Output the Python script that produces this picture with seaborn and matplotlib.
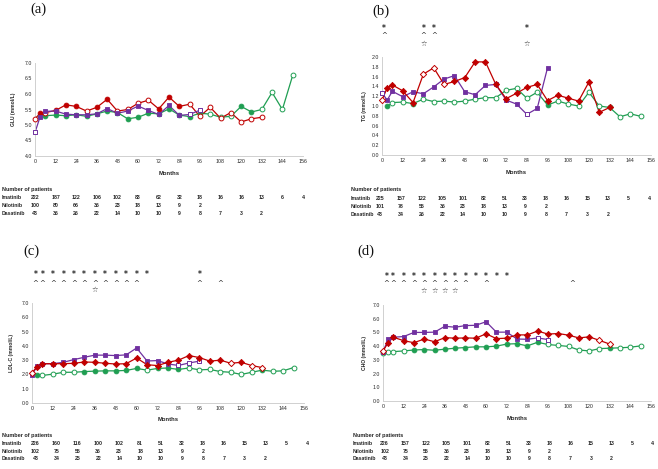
import numpy as np
import pandas as pd
import matplotlib
matplotlib.use("Agg")
import matplotlib.pyplot as plt
import matplotlib.transforms as mtransforms
import seaborn as sns

# ---------------- data ----------------
MONTHS_NIL = [0, 3, 6, 12, 18, 24, 30, 36, 42, 48, 54, 60, 66, 72, 78, 84, 90, 96]
MONTHS_DAS = [0, 3, 6, 12, 18, 24, 30, 36, 42, 48, 54, 60, 66, 72, 78, 84, 90, 96,
              102, 108, 114, 120, 126, 132]
MONTHS_IMA = [3, 6, 12, 18, 24, 30, 36, 42, 48, 54, 60, 66, 72, 78, 84, 90, 96,
              102, 108, 114, 120, 126, 132, 138, 144, 150]
MONTHS_IMA_D = [0] + MONTHS_IMA

# (a) GLU
GLU_NIL = [4.76, 5.27, 5.44, 5.45, 5.35, 5.33, 5.33, 5.36, 5.53, 5.38, 5.45, 5.61, 5.47, 5.34, 5.63, 5.31, 5.34, 5.48]
GLU_NIL_SIG = [0, 1, 1, 1, 1, 1, 1, 1, 1, 1, 1, 1, 1, 1, 1, 1, 0, 0]
GLU_DAS = [5.20, 5.38, 5.40, 5.47, 5.65, 5.60, 5.45, 5.57, 5.83, 5.45, 5.50, 5.70, 5.80, 5.52, 5.90, 5.60, 5.67, 5.28,
           5.57, 5.22, 5.40, 5.10, 5.20, 5.25]
GLU_DAS_SIG = [0, 1, 0, 1, 1, 1, 0, 1, 1, 0, 0, 0, 0, 1, 1, 1, 0, 0, 0, 0, 0, 0, 0, 0]
GLU_IMA = [5.28, 5.30, 5.32, 5.30, 5.33, 5.28, 5.36, 5.45, 5.40, 5.20, 5.25, 5.38, 5.36, 5.52, 5.32, 5.27, 5.38,
           5.35, 5.25, 5.28, 5.60, 5.42, 5.50, 6.05, 5.50, 6.60]
GLU_IMA_SIG = [1] * 17 + [0, 0, 0, 1, 1, 0, 0, 0, 0]

# (b) TG
TG_NIL = [1.27, 1.12, 1.30, 1.19, 1.29, 1.25, 1.39, 1.55, 1.62, 1.29, 1.23, 1.42, 1.44, 1.12, 1.04, 0.83, 0.95, 1.78]
TG_NIL_SIG = [0, 1, 1, 1, 1, 1, 1, 1, 1, 1, 1, 1, 1, 1, 1, 0, 1, 1]
TG_DAS = [1.12, 1.37, 1.43, 1.31, 1.07, 1.65, 1.78, 1.44, 1.50, 1.58, 1.90, 1.90, 1.44, 1.15, 1.26, 1.38, 1.44, 1.11,
          1.22, 1.16, 1.10, 1.49, 0.87, 0.97]
TG_DAS_SIG = [0, 1, 1, 1, 1, 0, 0, 0, 1, 1, 1, 1, 1, 1, 1, 1, 1, 1, 1, 1, 1, 1, 1, 1]
TG_IMA = [0.99, 1.07, 1.08, 1.05, 1.14, 1.09, 1.10, 1.08, 1.10, 1.14, 1.17, 1.17, 1.32, 1.36, 1.16, 1.28, 1.02,
          1.10, 1.04, 1.00, 1.28, 1.00, 0.97, 0.78, 0.84, 0.79]
TG_IMA_SIG = [1, 0, 0, 1, 0, 0, 0, 0, 0, 0, 0, 0, 0, 0, 0, 0, 1, 0, 0, 0, 0, 0, 0, 0, 0, 0]

# (c) LDL-C
LDL_NIL = [1.98, 2.58, 2.75, 2.75, 2.85, 3.04, 3.20, 3.35, 3.35, 3.32, 3.37, 3.85, 2.94, 2.97, 2.73, 2.63, 2.80, 2.93]
LDL_NIL_SIG = [1] * 15 + [0, 0, 0]
LDL_DAS = [2.12, 2.55, 2.75, 2.75, 2.75, 2.78, 2.87, 2.85, 2.78, 2.73, 2.75, 3.15, 2.68, 2.62, 2.85, 3.00, 3.32, 3.18,
           2.93, 3.00, 2.78, 2.85, 2.62, 2.48]
LDL_DAS_SIG = [0] + [1] * 19 + [0, 1, 0, 0]
LDL_IMA = [1.93, 1.93, 2.02, 2.15, 2.15, 2.20, 2.23, 2.25, 2.25, 2.28, 2.42, 2.30, 2.42, 2.45, 2.35, 2.45, 2.32,
           2.35, 2.20, 2.15, 2.00, 2.15, 2.30, 2.22, 2.25, 2.48]
LDL_IMA_SIG = [1, 0, 0, 0, 0, 1, 1, 1, 1, 1, 1, 0, 1, 1, 1, 0, 0, 0, 0, 0, 0, 0, 1, 0, 0, 0]

# (d) CHO
CHO_NIL = [3.60, 4.50, 4.65, 4.70, 5.00, 5.00, 5.02, 5.45, 5.38, 5.50, 5.52, 5.78, 5.02, 5.02, 4.52, 4.50, 4.60, 4.48]
CHO_NIL_SIG = [0] + [1] * 15 + [0, 0]
CHO_DAS = [3.65, 4.25, 4.65, 4.40, 4.25, 4.52, 4.32, 4.62, 4.58, 4.60, 4.58, 4.90, 4.55, 4.58, 4.82, 4.82, 5.10, 4.88,
           4.92, 4.80, 4.60, 4.68, 4.42, 4.15]
CHO_DAS_SIG = [0] + [1] * 21 + [0, 0]
CHO_IMA = [3.50, 3.55, 3.60, 3.65, 3.72, 3.75, 3.70, 3.78, 3.85, 3.90, 3.95, 3.95, 4.00, 4.15, 4.18, 4.02, 4.28,
           4.12, 4.05, 3.98, 3.72, 3.65, 3.82, 3.85, 3.88, 3.92, 4.02]
CHO_IMA_SIG = [0, 0, 0, 0] + [1] * 13 + [0] * 6 + [1, 0, 0, 0]

# number of patients tables
N_IMA_A = [222, 187, 122, 106, 102, 83, 62, 32, 18, 16, 16, 13, 6, 4]
N_NIL_A = [100, 80, 66, 36, 23, 18, 13, 9, 2]
N_DAS_A = [43, 36, 26, 22, 14, 10, 10, 9, 8, 7, 3, 2]
N_IMA_B = [225, 157, 122, 105, 101, 82, 51, 33, 18, 16, 15, 13, 5, 4]
N_NIL_B = [101, 78, 55, 36, 23, 18, 13, 9, 2]
N_DAS_B = [43, 34, 26, 22, 14, 10, 10, 9, 8, 7, 3, 2]
N_IMA_C = [226, 160, 116, 100, 102, 81, 51, 32, 18, 16, 15, 13, 5, 4]
N_NIL_C = [102, 75, 55, 36, 23, 18, 13, 9, 2]
N_DAS_C = [43, 34, 25, 22, 14, 10, 10, 9, 8, 7, 3, 2]
N_IMA_D = [226, 157, 122, 105, 101, 82, 51, 33, 18, 16, 15, 13, 5, 4]
N_NIL_D = [102, 75, 55, 36, 23, 18, 13, 9, 2]
N_DAS_D = [43, 34, 25, 22, 14, 10, 10, 9, 8, 7, 3, 2]
TABLE_MONTHS = [0, 12, 24, 36, 48, 60, 72, 84, 96, 108, 120, 132, 144, 156]
DRUGS = ["Imatinib", "Nilotinib", "Dasatinib"]

# significance markers above plots (months)
STAR_B = [1, 24, 30, 84]
CARET_B = [1, 24, 30]
WSTAR_B = [24, 84]
STAR_C = [2, 6, 12, 18, 24, 30, 36, 42, 48, 54, 60, 66, 96]
CARET_C = [2, 6, 12, 18, 24, 30, 36, 42, 48, 54, 60, 96, 108]
WSTAR_C = [36]
STAR_D = [2, 6, 12, 18, 24, 30, 36, 42, 48, 54, 60, 66, 72]
CARET_D = [2, 6, 12, 18, 24, 30, 36, 42, 48, 60, 110]
WSTAR_D = [24, 30, 36, 42]

XTICKS = [0, 12, 24, 36, 48, 60, 72, 84, 96, 108, 120, 132, 144, 156]

# ---------------- style ----------------
sns.set_theme(style="white")
plt.rcParams["font.family"] = ["Liberation Sans", "DejaVu Sans"]

C_NIL = "#7030a0"
C_DAS = "#c00000"
C_IMA = "#1f9e52"
TXT = "#262626"

W, H = 658, 469
fig = plt.figure(figsize=(W / 100, H / 100), dpi=100)
fig.patch.set_facecolor("white")


def rect(x0, y0, x1, y1):
    return [x0 / W, 1 - y1 / H, (x1 - x0) / W, (y1 - y0) / H]


def draw_series(ax, months, values, sig, color, marker):
    df = pd.DataFrame({"m": months, "v": values, "s": sig})
    sns.lineplot(data=df, x="m", y="v", color=color, lw=0.9, ax=ax, zorder=2)
    f = df[df.s == 1]
    o = df[df.s == 0]
    sz = 12 if marker != "D" else 10
    if len(f):
        sns.scatterplot(data=f, x="m", y="v", color=color, edgecolor=color, marker=marker,
                        s=sz, linewidth=0.6, ax=ax, zorder=3, clip_on=False)
    if len(o):
        sns.scatterplot(data=o, x="m", y="v", color="white", edgecolor=color, marker=marker,
                        s=sz, linewidth=0.7, ax=ax, zorder=3, clip_on=False)


def panel(box, label, label_xy, ylab, ylab_x, ylim, yticks, series, tables, table_y, table_x,
          months_y, ann=None, shift=0.0):
    ax = fig.add_axes(rect(*box))
    for months, values, sig, color, marker in series:
        draw_series(ax, months, values, sig, color, marker)
    ax.set_xlim(0, 156)
    ax.set_ylim(*ylim)
    ax.set_xticks(XTICKS)
    ax.set_xticklabels([str(t) for t in XTICKS])
    ax.set_yticks(yticks)
    ax.set_yticklabels([f"{t:.1f}" for t in yticks])
    ax.tick_params(axis="both", length=0, labelsize=3.8, colors=TXT, pad=2)
    for s in ["top", "right"]:
        ax.spines[s].set_visible(False)
    for s in ["left", "bottom"]:
        ax.spines[s].set_color("#d0d0d0")
        ax.spines[s].set_linewidth(0.7)
    ax.set_xlabel("")
    ax.set_ylabel("")
    x0, y0, x1, y1 = box
    fig.text((x0 + x1) / 2 / W, 1 - months_y / H, "Months", ha="center", va="center",
             fontsize=4.2, fontweight="bold", color=TXT)
    fig.text(ylab_x / W, 1 - ((y0 + y1) / 2) / H, ylab, ha="center", va="center",
             rotation=90, fontsize=3.6, fontweight="bold", color=TXT)
    fig.text(label_xy[0] / W, 1 - label_xy[1] / H, label, ha="center", va="center",
             fontsize=10.5, family=["Liberation Serif", "DejaVu Serif"], color="#111111")
    # patients table
    trans = mtransforms.blended_transform_factory(ax.transData, fig.transFigure)
    fig.text(table_x / W, 1 - table_y[0] / H, "Number of patients", ha="left", va="center",
             fontsize=4.0, fontweight="bold", color=TXT)
    for name, counts, yy in zip(DRUGS, tables, table_y[1:]):
        fig.text(table_x / W, 1 - yy / H, name, ha="left", va="center",
                 fontsize=3.7, fontweight="bold", color=TXT)
        for m, n in zip(TABLE_MONTHS, counts):
            ax.text(m + shift, 1 - yy / H, str(n), transform=trans, ha="center", va="center",
                    fontsize=3.8, fontweight="bold", color=TXT, clip_on=False)
    if ann:
        for months, sym, yy in ann:
            for m in months:
                if sym == "*":
                    fs, fw = 5.5, "bold"
                elif sym == "^":
                    fs, fw = 5.0, "normal"
                else:
                    fs, fw = 5.2, "normal"
                ax.text(m, 1 - yy / H, sym, transform=trans, ha="center", va="center",
                        fontsize=fs, fontweight=fw, color=TXT, clip_on=False,
                        family=["DejaVu Sans"])
    return ax


panel((35, 63, 303, 156), "(a)", (38, 9), "GLU (mmol/L)", 13, (4.0, 7.0),
      [4.0, 4.5, 5.0, 5.5, 6.0, 6.5, 7.0],
      [(MONTHS_IMA, GLU_IMA, GLU_IMA_SIG, C_IMA, "o"),
       (MONTHS_DAS, GLU_DAS, GLU_DAS_SIG, C_DAS, "o"),
       (MONTHS_NIL, GLU_NIL, GLU_NIL_SIG, C_NIL, "s")],
      [N_IMA_A, N_NIL_A, N_DAS_A], (189, 197, 205, 213), 2, 173, shift=0.0)

panel((382, 57, 651, 155), "(b)", (381, 11), "TG (mmol/L)", 365, (0.0, 2.0),
      [0.0, 0.2, 0.4, 0.6, 0.8, 1.0, 1.2, 1.4, 1.6, 1.8, 2.0],
      [(MONTHS_IMA, TG_IMA, TG_IMA_SIG, C_IMA, "o"),
       (MONTHS_NIL, TG_NIL, TG_NIL_SIG, C_NIL, "s"),
       (MONTHS_DAS, TG_DAS, TG_DAS_SIG, C_DAS, "D")],
      [N_IMA_B, N_NIL_B, N_DAS_B], (190, 198, 206, 214), 351, 172,
      ann=[(STAR_B, "*", 28), (CARET_B, "^", 35), (WSTAR_B, "☆", 44)], shift=-1.0)

panel((32, 303, 304, 403), "(c)", (31, 251), "LDL-C (mmol/L)", 12, (0.0, 7.0),
      [0.0, 1.0, 2.0, 3.0, 4.0, 5.0, 6.0, 7.0],
      [(MONTHS_IMA, LDL_IMA, LDL_IMA_SIG, C_IMA, "o"),
       (MONTHS_NIL, LDL_NIL, LDL_NIL_SIG, C_NIL, "s"),
       (MONTHS_DAS, LDL_DAS, LDL_DAS_SIG, C_DAS, "D")],
      [N_IMA_C, N_NIL_C, N_DAS_C], (435, 443, 451, 458), 2, 419,
      ann=[(STAR_C, "*", 275), (CARET_C, "^", 283), (WSTAR_C, "☆", 290)], shift=2.0)

panel((383, 305, 651, 401), "(d)", (366, 251), "CHO (mmol/L)", 365, (0.0, 7.0),
      [0.0, 1.0, 2.0, 3.0, 4.0, 5.0, 6.0, 7.0],
      [(MONTHS_IMA_D, CHO_IMA, CHO_IMA_SIG, C_IMA, "o"),
       (MONTHS_NIL, CHO_NIL, CHO_NIL_SIG, C_NIL, "s"),
       (MONTHS_DAS, CHO_DAS, CHO_DAS_SIG, C_DAS, "D")],
      [N_IMA_D, N_NIL_D, N_DAS_D], (435, 443, 451, 458), 353, 418,
      ann=[(STAR_D, "*", 276), (CARET_D, "^", 283), (WSTAR_D, "☆", 291)], shift=1.0)

fig.savefig("out.png", dpi=100, facecolor="white")
